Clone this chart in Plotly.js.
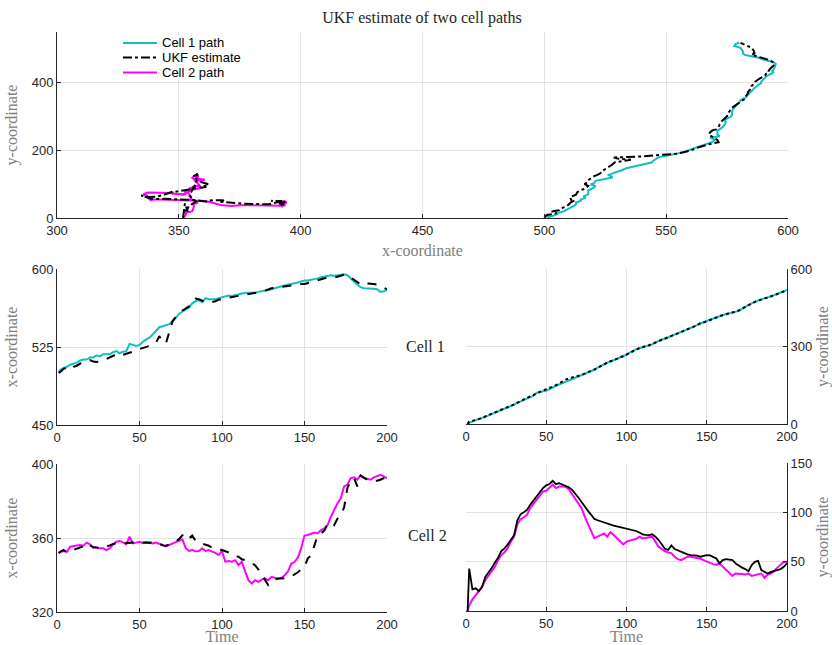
<!DOCTYPE html>
<html>
<head>
<meta charset="utf-8">
<script src="https://cdn.plot.ly/plotly-3.0.1.min.js"></script>
<style>html,body{margin:0;padding:0;background:#fff;}#chart{width:832px;height:645px;}</style>
</head>
<body>
<div id="chart"></div>
<script>
// Time steps
const time = [1,2,4,6,8,10,12,14,16,18,20,22,24,26,28,30,32,34,36,38,40,42,44,46,48,50,52,54,56,58,60,62,64,66,68,70,72,74,76,78,80,82,84,86,88,90,92,94,96,98,100,102,104,106,108,110,112,114,116,118,120,122,124,126,128,130,132,134,136,138,140,142,144,146,148,150,152,154,156,158,160,162,164,166,168,170,172,174,176,178,180,182,184,186,188,190,192,194,196,198,200];

// Cell 1 true path
const cell1X = [501,503,505,506,508,509,510,512,513,513,
515,515,517,516,518,518,518,520,521,519,
520.5,521,528,527,526,527,530,532,534,537,
541,544,545,546,547,550,553,557,559,561,
563,567,569,570,568,572,571,571,571,572,
573,574,574.5,574,575,576,576.5,577,577,577,
577.5,578,578.5,579,580,580.5,581.5,582.5,583,584,
585,585.5,586,587,588,589,589,589.5,590,591,
592,592.5,593.5,594,593.5,594,594.5,595,594,590.5,
588,585,582.5,581.5,581.5,581.5,581,580.5,578,578.5,
580];
const cell1Y = [2,5,11,16,20,23,28,35,41,46,
51,55,60,64,70,75,82,88,94,99,
103,110,120,125,127,129,136,142,148,153,
158,164,171,176,180,184,189,194,200,205,
210,218,225,232,237,242,247,252,258,263,
268,276,284,289,293,296,300,304,308,315,
322,327,330,335,342,348,352,356,361,367,
373,378,383,389,394,399,403,407,412,418,
422,425,428,431,435,438,446,455,461,467,
474,478,482,486,490,493,498,503,509,514,
519];

// UKF estimate, cell 1
const est1X = [500,501,504,505,503,506,507,509,510,511,
512.5,511,510.5,511.5,513,513.5,515,517,518,516.5,
517.5,518,519.5,520.5,522,523,523.5,525,526,527.5,
529,535.5,530,528.5,540,549.5,554,557.5,560,562,
564,568,571.5,571,569.5,568,567.5,568,569,570.5,
571.5,572,572.5,573,574,574.5,575,575,575.5,576,
576.5,577,578,579,580.5,581.5,582,582.5,583,583.5,
583.5,584,585,585,585.5,585.5,586.5,587.5,588.5,589.5,
590.5,591,592,592,592,592.5,593.5,594.5,594,592,
589.5,587.5,585,586.5,586,586,585.5,585,583.5,582,
580.5];
const est1Y = [0,9,12,15,19,23,29,34,40,47,
52,54,61,65,69,76,83,87,95,100,
105,112,119,124,128,132,138,144,150,156,
165,172,176,179,182,186,190,195,199,206,
211,219,224,231,238,243,246,253,259,262,
269,277,283,288,294,297,301,305,310,316,
321,326,331,336,343,347,351,357,362,368,
372,377,384,390,393,398,404,408,413,417,
421,426,429,432,434,440,447,454,460,468,
473,477,483,487,489,494,499,504,508,513,
518];

// Cell 2 true path
const cell2X = [352,352.5,353,352.5,355.3,355.8,356,356.2,355.8,357.5,
356.6,354.8,355,354.4,354.4,353.5,354.5,356.5,358,358.4,
357.6,356.7,360.7,357.1,357.5,358,357.2,357.8,357.4,357,
357.5,357,356.2,355.5,356.3,356.7,357.5,358.5,359.3,354.5,
353,353.5,352.8,353,354.4,353,353.5,352.6,352,350.8,
353,347.2,347.5,347.2,348,345.3,347.2,342,337.2,335.4,
337.2,336.3,337.5,338.1,337.2,339,338.4,338,338.5,339.9,
342,346.2,347,349.5,354.5,361.3,361.6,362.5,363,362.5,
364.3,365.2,367,371.5,375.2,378.8,381.5,387.9,388.8,392.4,
392.8,391.5,393.8,392.4,392,391.5,392.8,393.5,394.2,393.3,
392.4];
const cell2Y = [0,5.8,11.9,16,19.3,24.4,31.2,35.5,40,44.8,
51.6,56.7,59.5,64,70.3,75.3,88,93,95,97.4,
104.2,108.5,113,117.5,121.2,121.8,125.2,128,124.6,126.2,
126.2,126,123.5,119,114.4,109.3,104.2,95.7,88.9,82.1,
73.6,75.5,77.5,78.7,75.3,79.8,77,73.5,70,67.5,
70.3,71.5,72.3,72.9,75.3,73.6,74,74.8,75.3,70.3,
65.2,63,60.5,59.4,58.4,55,52.5,51.6,53.3,55,
55,54.5,54,53,51.6,49.9,48.8,47.5,47,48.2,
44.8,42,38.5,35.6,38,38,37.5,37,37.8,35.6,
36.3,37,38,33.6,37,38,40.5,44,46.5,49.9,
49.2];

// UKF estimate, cell 2
const est2X = [351.7,352.5,353.5,352.2,352.9,353.5,354,355,355.5,357.1,
356.2,355,354.8,354.5,354.8,355.3,356,356.8,357.1,357.3,
357.1,357.3,357.5,357.5,357.6,357.6,357.4,357.5,357.5,357.6,
357.6,357,356,355.8,356.5,357.1,358,359.5,361.5,362.3,
359.8,361.3,358.5,357.5,357,356.2,355.8,354.8,354.2,353.8,
353.5,352.8,352,351.5,350.2,349.9,348.5,348.2,347.5,346.5,
345.3,343,340.5,337.5,334.5,336.3,337.5,338.1,338.1,338.3,
338.5,339.2,340.3,341.5,343,344.4,349,350.5,356,361.5,
362.5,364,367.5,368.5,367,370.5,372.5,376.5,387,390.6,
392.4,387.9,393.8,392.4,391.5,391,391,391,391.5,392.4,
393.8];
const est2Y = [0,43,22,23,20,24.4,34.6,39,43.5,49.2,
54,60.7,63.5,67.5,71.9,77,92,98,100,102.5,
107.6,112,116.5,120,124.6,127.3,128.6,132,128.6,129.6,
128,127,125.5,123,119.5,115.1,110.5,105.5,101.5,97.4,
93.3,92,90.8,89.6,88.4,87.2,86.5,85.8,85,84,
83.2,82.5,81.6,81.1,79.5,77.7,77.2,77,77.7,75.3,
71.9,66.8,63,62,66.5,62.8,61.5,60,58.4,57.5,
56.7,56.7,56.2,55,56,56.7,56.3,55,53.3,48.2,
51.6,52.6,52.2,51.6,48.2,45.8,44,42.5,40.4,46.5,
49.9,50.9,41.4,39.7,38,39.7,40.5,41.4,42.5,44.8,
48.2];

// Legend labels
const legendNames = ['Cell 1 path', 'UKF estimate', 'Cell 2 path'];

const CYAN = '#12bfbf', MAG = '#ff00ff', BLK = '#000000';
const W = 832, H = 645;
const px = v => v / W, py = v => 1 - v / H;

const traces = [
  {x: cell1X, y: cell1Y, xaxis:'x', yaxis:'y', mode:'lines', name:legendNames[0], line:{color:CYAN, width:2}},
  {x: est1X, y: est1Y, xaxis:'x', yaxis:'y', mode:'lines', name:legendNames[1], line:{color:BLK, width:2, dash:'dashdot'}},
  {x: cell2X, y: cell2Y, xaxis:'x', yaxis:'y', mode:'lines', name:legendNames[2], line:{color:MAG, width:2}},
  {x: est2X, y: est2Y, xaxis:'x', yaxis:'y', mode:'lines', name:legendNames[1], line:{color:BLK, width:2, dash:'dashdot'}},

  {x: time, y: cell1X, xaxis:'x2', yaxis:'y2', mode:'lines', line:{color:CYAN, width:2}},
  {x: time, y: est1X, xaxis:'x2', yaxis:'y2', mode:'lines', line:{color:BLK, width:2, dash:'dash'}},

  {x: time, y: cell1Y, xaxis:'x3', yaxis:'y3', mode:'lines', line:{color:CYAN, width:2}},
  {x: time, y: est1Y, xaxis:'x3', yaxis:'y3', mode:'lines', line:{color:BLK, width:2, dash:'dot'}},

  {x: time, y: cell2X, xaxis:'x4', yaxis:'y4', mode:'lines', line:{color:MAG, width:2}},
  {x: time, y: est2X, xaxis:'x4', yaxis:'y4', mode:'lines', line:{color:BLK, width:2, dash:'dash'}},

  {x: time, y: cell2Y, xaxis:'x5', yaxis:'y5', mode:'lines', line:{color:MAG, width:2}},
  {x: time, y: est2Y, xaxis:'x5', yaxis:'y5', mode:'lines', line:{color:BLK, width:1.8}}
];

const tickFont = {family:'Liberation Sans, Arial, sans-serif', size:13, color:'#262626'};
const labFont = {family:'Liberation Serif, Times New Roman, serif', size:16, color:'#808080'};
const serifDark = {family:'Liberation Serif, Times New Roman, serif', size:16, color:'#262626'};
function ax(extra) {
  return Object.assign({
    showline:true, linecolor:'#262626', linewidth:1,
    ticks:'inside', ticklen:4, tickcolor:'#262626', tickwidth:1,
    showgrid:true, gridcolor:'#e3e3e3', gridwidth:1,
    zeroline:false, mirror:false, tickfont:tickFont, automargin:false, fixedrange:true
  }, extra);
}

// Legend (drawn in the upper-left of the top panel, MATLAB style: white box, no border)
const legColors = [CYAN, BLK, MAG];
const legDash = ['solid', 'dashdot', 'solid'];
const legRows = [43, 57.5, 72.5];
const shapes = [
  {type:'rect', xref:'paper', yref:'paper', x0:px(117), x1:px(252), y0:py(80), y1:py(35),
   fillcolor:'#ffffff', line:{width:0}, layer:'above'}
];
const annotations = [
  {text:'Cell 1', xref:'paper', yref:'paper', x:px(425), y:py(346), xanchor:'center', yanchor:'middle', showarrow:false, font:serifDark},
  {text:'Cell 2', xref:'paper', yref:'paper', x:px(428), y:py(535), xanchor:'center', yanchor:'middle', showarrow:false, font:serifDark}
];
legendNames.forEach((n, i) => {
  shapes.push({type:'line', xref:'paper', yref:'paper', x0:px(123), x1:px(157), y0:py(legRows[i]), y1:py(legRows[i]),
               line:{color:legColors[i], width:2, dash:legDash[i]}, layer:'above'});
  annotations.push({text:n, xref:'paper', yref:'paper', x:px(160), y:py(legRows[i]), xanchor:'left', yanchor:'middle',
                    showarrow:false, font:{family:'Liberation Sans, Arial, sans-serif', size:13, color:'#000'}});
});

const layout = {
  width: W, height: H,
  margin:{l:0, r:0, t:0, b:0},
  paper_bgcolor:'#ffffff', plot_bgcolor:'#ffffff',
  showlegend:false,
  title:{text:'UKF estimate of two cell paths', font:serifDark, x:px(422), xref:'paper', xanchor:'center', y:py(17), yref:'paper', yanchor:'middle'},
  xaxis: ax({domain:[px(57), px(788)], range:[300,600], tickvals:[300,350,400,450,500,550,600], anchor:'y',
            title:{text:'x-coordinate', font:labFont, standoff:8}}),
  yaxis: ax({domain:[py(218), py(32)], range:[0,550], tickvals:[0,200,400], anchor:'x',
            title:{text:'y-coordinate', font:labFont, standoff:10}}),
  xaxis2: ax({domain:[px(57), px(387)], range:[0,200], tickvals:[0,50,100,150,200], anchor:'y2'}),
  yaxis2: ax({domain:[py(425), py(269)], range:[450,600], tickvals:[450,525,600], anchor:'x2',
            title:{text:'x-coordinate', font:labFont, standoff:10}}),
  xaxis3: ax({domain:[px(466), px(787)], range:[0,200], tickvals:[0,50,100,150,200], anchor:'y3'}),
  yaxis3: ax({domain:[py(424), py(269)], range:[0,600], tickvals:[0,300,600], anchor:'x3', side:'right',
            title:{text:'y-coordinate', font:labFont, standoff:12}}),
  xaxis4: ax({domain:[px(57), px(387)], range:[0,200], tickvals:[0,50,100,150,200], anchor:'y4',
            title:{text:'Time', font:labFont, standoff:5}}),
  yaxis4: ax({domain:[py(612), py(464)], range:[320,400], tickvals:[320,360,400], anchor:'x4',
            title:{text:'x-coordinate', font:labFont, standoff:10}}),
  xaxis5: ax({domain:[px(466), px(787)], range:[0,200], tickvals:[0,50,100,150,200], anchor:'y5',
            title:{text:'Time', font:labFont, standoff:5}}),
  yaxis5: ax({domain:[py(611), py(463)], range:[0,150], tickvals:[0,50,100,150], anchor:'x5', side:'right',
            title:{text:'y-coordinate', font:labFont, standoff:12}}),
  shapes: shapes,
  annotations: annotations
};

Plotly.newPlot('chart', traces, layout, {displayModeBar:false, staticPlot:true});
</script>
</body>
</html>
